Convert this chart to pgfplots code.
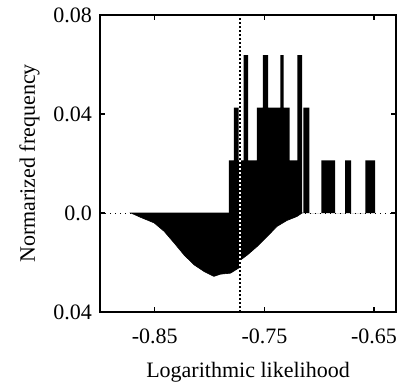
\documentclass[border=0pt]{standalone}
\usepackage{pgfplots}
\pgfplotsset{compat=1.18}
\usepackage{fontspec}
\setmainfont{Liberation Serif}
\begin{document}
\begin{tikzpicture}
\begin{axis}[
  scale only axis, width=148pt, height=148.5pt,
  xmin=-0.90, xmax=-0.63, ymin=-0.04, ymax=0.08,
  scaled x ticks=false, scaled y ticks=false,
  xtick={-0.85,-0.75,-0.65}, xticklabels={-0.85,-0.75,-0.65},
  ytick={-0.04,0,0.04,0.08}, yticklabels={0.04,0.0,0.04,0.08},
  tick align=inside, major tick length=2.5pt,
  xtick pos=both, ytick pos=both,
  axis line style={line width=0.7pt},
  tick style={black, line width=0.6pt},
  font=\fontsize{11}{13}\selectfont,
  xticklabel style={yshift=-4.8pt},
  yticklabel style={xshift=-0.5pt},
  xlabel style={yshift=-2.5pt},
  xlabel={Logarithmic likelihood}, ylabel={Normarized frequency},
  clip=true,
]
% zero line
\addplot[black, dotted, line width=0.5pt, forget plot] coordinates {(-0.90,0) (-0.63,0)};
% upper histogram
\addplot[const plot, fill=black, draw=none, forget plot] coordinates {
(-0.7825,0) (-0.7825,0.0213) (-0.778,0.0426) (-0.7735,0.0213) (-0.769,0.0638)
(-0.765,0.0213) (-0.757,0.0426) (-0.7515,0.0638) (-0.7466,0.0426) (-0.7355,0.0638)
(-0.7325,0.0426) (-0.727,0.0213) (-0.720,0.0638) (-0.7157,0) (-0.7145,0.0426)
(-0.709,0) (-0.698,0.0213) (-0.6855,0) (-0.6764,0.0213) (-0.671,0)
(-0.658,0.0213) (-0.649,0)
} \closedcycle;
% lower distribution
\addplot[fill=black, draw=black, line width=0.3pt, forget plot] coordinates {
(-0.8718,0) (-0.8627,-0.0018) (-0.8506,-0.0040) (-0.8415,-0.0074) (-0.8324,-0.0121)
(-0.8234,-0.0169) (-0.8143,-0.0209) (-0.8052,-0.0236) (-0.7961,-0.0256) (-0.790,-0.0247)
(-0.7809,-0.0243) (-0.7734,-0.0222) (-0.7718,-0.0190) (-0.7657,-0.0170) (-0.7566,-0.0135)
(-0.7475,-0.0095) (-0.7385,-0.0054) (-0.7294,-0.0030) (-0.7203,-0.0014) (-0.7157,0)
} -- cycle;
% vertical marker line
\addplot[white, line width=1pt, forget plot] coordinates {(-0.772,-0.04) (-0.772,0.08)};
\addplot[black, line width=1pt, dash pattern=on 1pt off 1pt, forget plot] coordinates {(-0.772,-0.04) (-0.772,0.08)};
\end{axis}
\pgfresetboundingbox
\path ([xshift=-50pt,yshift=-36.5pt]current axis.south west) rectangle ([xshift=1.5pt,yshift=7.5pt]current axis.north east);
\end{tikzpicture}
\end{document}
